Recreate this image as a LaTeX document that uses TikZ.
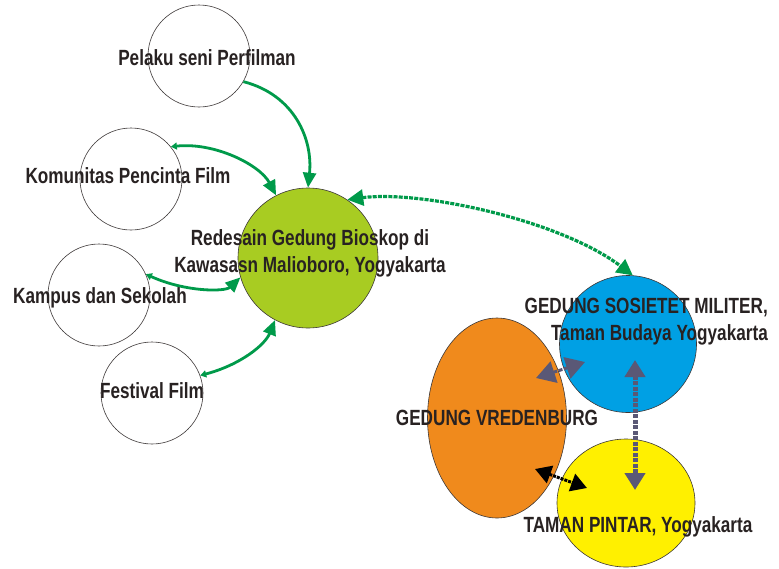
\documentclass[tikz,border=0pt]{standalone}
\usepackage{fontspec}
\newfontfamily\narrowfont{Liberation Sans}[FakeStretch=0.78]
\usetikzlibrary{arrows.meta,shapes.geometric}
\definecolor{ringline}{RGB}{60,55,55}
\definecolor{limegreen}{RGB}{168,204,34}
\definecolor{skyblue}{RGB}{0,160,228}
\definecolor{orangefill}{RGB}{240,138,28}
\definecolor{yellowfill}{RGB}{255,240,0}
\definecolor{arrowgreen}{RGB}{0,154,74}
\definecolor{arrowgray}{RGB}{90,88,118}
\definecolor{textdark}{RGB}{40,34,34}
\tikzset{
  ring/.style={circle, draw=ringline, line width=0.6pt, inner sep=0pt, minimum size=#1},
  lbl/.style={font=\narrowfont\bfseries\fontsize{22}{27}\selectfont, text=textdark, inner sep=0pt, align=center},
  garrow/.style={draw=arrowgreen, line width=2.8pt, -{Triangle[length=15pt,width=13pt]}},
  gboth/.style={draw=arrowgreen, line width=2.8pt, {Triangle[length=6pt,width=7pt]}-{Triangle[length=15pt,width=13pt]}},
  dotgreen/.style={draw=arrowgreen, line width=3.2pt, dash pattern=on 4pt off 1.2pt, {Triangle[length=16pt,width=16pt]}-{Triangle[length=16pt,width=16pt]}},
  grayarrow/.style={draw=arrowgray, line width=5pt, dash pattern=on 4pt off 1.5pt, {Triangle[length=17pt,width=20pt]}-{Triangle[length=17pt,width=20pt]}},
  blackarrow/.style={draw=black, line width=3pt, dash pattern=on 3pt off 1pt, {Triangle[length=16pt,width=18pt]}-{Triangle[length=16pt,width=18pt]}},
}
\begin{document}
\begin{tikzpicture}[x=1pt,y=-1pt]
\useasboundingbox (0,0) rectangle (779,568);
% circles
\node[ring=102pt] (pelaku) at (199,56) {};
\node[ring=102pt] (komunitas) at (131,179) {};
\node[ring=102pt] (kampus) at (99,295) {};
\node[ring=102pt] (festival) at (152,393) {};
\node[ring=140pt, fill=limegreen] (bioskop) at (308,258) {};
\node[ellipse, draw=ringline, line width=0.6pt, fill=orangefill, minimum width=139pt, minimum height=200pt, inner sep=0pt] (vredenburg) at (497,418) {};
\node[ring=137pt, fill=skyblue] (sosietet) at (628,344) {};
\node[ellipse, draw=ringline, line width=0.6pt, fill=yellowfill, minimum width=138pt, minimum height=128pt, inner sep=0pt] (pintar) at (626,503) {};
% connectors
\draw[garrow] (pelaku.-30) .. controls (295,95) and (313,140) .. (bioskop.90);
\draw[gboth] (komunitas.39) .. controls (215,142) and (260,165) .. (bioskop.117);
\draw[gboth] (kampus.24) .. controls (185,292) and (225,292) .. (bioskop.196);
\draw[gboth] (festival.20) .. controls (240,365) and (265,345) .. (bioskop.-118);
\draw[dotgreen] (bioskop.56) .. controls (420,190) and (560,220) .. (sosietet.86);
\coordinate (oa) at (536,378);
\coordinate (ob) at (585,362);
\draw[grayarrow, line width=3pt, {Triangle[length=19pt,width=22pt]}-{Triangle[length=19pt,width=22pt]}] (oa) -- (ob);
\coordinate (va) at (635,360);
\coordinate (vb) at (635,490);
\draw[grayarrow] (va) -- (vb);
\coordinate (ba) at (535,469);
\coordinate (bb) at (587,488);
\draw[blackarrow] (ba) -- (bb);
% labels
\node[lbl] (tpelaku) at (207,58) {Pelaku seni Perfilman};
\node[lbl] (tkomunitas) at (128,176) {Komunitas Pencinta Film};
\node[lbl] (tkampus) at (100,298) {Kampus dan Sekolah};
\node[lbl] (tfestival) at (152,391) {Festival Film};
\node[lbl] (tbioskop) at (310,253) {Redesain Gedung Bioskop di\\Kawasasn Malioboro, Yogyakarta};
\node[lbl, align=right, anchor=east] (tsosietet) at (768,322) {GEDUNG SOSIETET MILITER,\\Taman Budaya Yogyakarta};
\node[lbl] (tvredenburg) at (497,418) {GEDUNG VREDENBURG};
\node[lbl] (tpintar) at (638,527) {TAMAN PINTAR, Yogyakarta};
\end{tikzpicture}
\end{document}
